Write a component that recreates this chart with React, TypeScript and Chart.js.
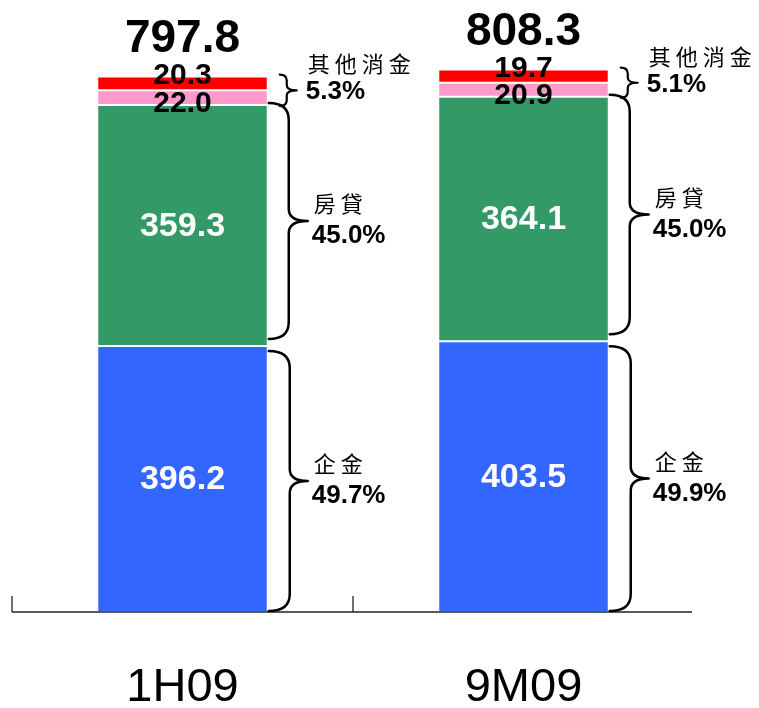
import React, { useEffect, useRef } from 'react';
import { Chart, registerables } from 'chart.js';

Chart.register(...registerables);

// ---- data ----
const categories = ['1H09', '9M09'];
const corporate = [396.2, 403.5];
const mortgage = [359.3, 364.1];
const otherConsumerA = [22.0, 20.9];
const otherConsumerB = [20.3, 19.7];
const totals = [797.8, 808.3];
const corporatePct = [49.7, 49.9];
const mortgagePct = [45.0, 45.0];
const otherPct = [5.3, 5.1];
const groupNames = ['企金', '房貸', '其他消金'];
const seriesNames = ['企金', '房貸', '其他消金(一)', '其他消金(二)'];

const NUM_FONT = '"Liberation Sans", Arial, Helvetica, sans-serif';
const CJK_FONT = '"Noto Sans CJK TC", "Noto Sans CJK SC", sans-serif';

function drawBrace(
  ctx: CanvasRenderingContext2D,
  x0: number, xm: number, xt: number,
  y0: number, y1: number,
  rArm: number, rTip: number, lw: number
) {
  const mid = (y0 + y1) / 2;
  ctx.beginPath();
  ctx.moveTo(x0, y0);
  ctx.quadraticCurveTo(xm, y0, xm, y0 + rArm);
  ctx.lineTo(xm, mid - rTip);
  ctx.quadraticCurveTo(xm, mid, xt, mid);
  ctx.quadraticCurveTo(xm, mid, xm, mid + rTip);
  ctx.lineTo(xm, y1 - rArm);
  ctx.quadraticCurveTo(xm, y1, x0, y1);
  ctx.lineWidth = lw;
  ctx.strokeStyle = '#000';
  ctx.lineJoin = 'round';
  ctx.lineCap = 'round';
  ctx.stroke();
  return mid;
}

function drawSpaced(ctx: CanvasRenderingContext2D, text: string, x: number, y: number, advance: number) {
  Array.from(text).forEach((c, i) => ctx.fillText(c, x + i * advance, y));
}

const annotatePlugin = {
  id: 'annotate',
  afterDatasetsDraw(chart: any) {
    const ctx: CanvasRenderingContext2D = chart.ctx;
    const area = chart.chartArea;
    const xs = chart.scales.x;
    ctx.save();

    // axis line and category boundary ticks
    ctx.strokeStyle = '#222';
    ctx.lineWidth = 1.6;
    ctx.beginPath();
    ctx.moveTo(area.left, area.bottom);
    ctx.lineTo(area.right - 2, area.bottom);
    ctx.stroke();
    const p0 = xs.getPixelForValue(0);
    const p1 = xs.getPixelForValue(1);
    const boundaries = [area.left, (p0 + p1) / 2];
    ctx.lineWidth = 1.3;
    boundaries.forEach((bx) => {
      ctx.beginPath();
      ctx.moveTo(bx, area.bottom - 16);
      ctx.lineTo(bx, area.bottom);
      ctx.stroke();
    });

    categories.forEach((_, i) => {
      const el = (d: number) => chart.getDatasetMeta(d).data[i] as any;
      const blue = el(0), green = el(1), pink = el(2), red = el(3);
      const right = blue.x + blue.width / 2;

      ctx.textAlign = 'center';
      ctx.textBaseline = 'middle';
      ctx.fillStyle = '#fff';
      ctx.font = `bold 34px ${NUM_FONT}`;
      ctx.fillText(corporate[i].toFixed(1), blue.x, (blue.y + blue.base) / 2 + 1);
      ctx.fillText(mortgage[i].toFixed(1), green.x, (green.y + green.base) / 2 + 1);

      ctx.fillStyle = '#000';
      ctx.font = `bold 30px ${NUM_FONT}`;
      ctx.fillText(otherConsumerA[i].toFixed(1), pink.x, pink.base - 1);
      ctx.fillText(otherConsumerB[i].toFixed(1), red.x, red.y - 1);

      ctx.font = `bold 46px ${NUM_FONT}`;
      ctx.fillText(totals[i].toFixed(1), red.x, red.y - 37);

      // braces
      drawBrace(ctx, right + 12, right + 19, right + 29, red.y - 2, pink.base + 1, 6, 5, 2.2);
      const gMid = drawBrace(ctx, right + 1, right + 21, right + 40, green.y - 2, green.base - 7, 17, 12, 2.5);
      const bMid = drawBrace(ctx, right + 1, right + 22, right + 40, blue.y + 5, blue.base - 1, 17, 12, 2.5);

      ctx.textAlign = 'left';
      // other consumer labels
      ctx.font = `22px ${CJK_FONT}`;
      drawSpaced(ctx, groupNames[2], right + 40, red.y - 13, 27);
      ctx.font = `bold 26px ${NUM_FONT}`;
      ctx.fillText(otherPct[i].toFixed(1) + '%', right + 38, red.y + 15);

      // mortgage labels
      ctx.font = `22px ${CJK_FONT}`;
      drawSpaced(ctx, groupNames[1], right + 46, gMid - 17, 27);
      ctx.font = `bold 26px ${NUM_FONT}`;
      ctx.fillText(mortgagePct[i].toFixed(1) + '%', right + 44, gMid + 15);

      // corporate labels
      ctx.font = `22px ${CJK_FONT}`;
      drawSpaced(ctx, groupNames[0], right + 46, bMid - 17, 27);
      ctx.font = `bold 26px ${NUM_FONT}`;
      ctx.fillText(corporatePct[i].toFixed(1) + '%', right + 44, bMid + 15);
    });

    ctx.restore();
  },
};

export default function App() {
  const ref = useRef<HTMLCanvasElement | null>(null);

  useEffect(() => {
    document.documentElement.style.overflow = 'hidden';
    if (!ref.current) return;
    const colors = ['#3366FF', '#339966', '#FF99CC', '#FF0000'];
    const values = [corporate, mortgage, otherConsumerA, otherConsumerB];
    const chart = new Chart(ref.current, {
      type: 'bar',
      data: {
        labels: categories,
        datasets: values.map((v, k) => ({
          label: seriesNames[k],
          data: v,
          backgroundColor: colors[k],
          borderColor: '#ffffff',
          borderWidth: 1,
          borderSkipped: false,
          categoryPercentage: 1,
          barPercentage: 0.5,
        })),
      },
      options: {
        responsive: false,
        animation: false,
        events: [],
        layout: { padding: { left: 4, right: 57, top: 0, bottom: 0 } },
        plugins: { legend: { display: false }, tooltip: { enabled: false } },
        scales: {
          x: {
            stacked: true,
            grid: { display: false, drawTicks: false },
            border: { display: false },
            ticks: {
              color: '#000',
              padding: 64,
              font: { family: NUM_FONT, size: 47, lineHeight: 0.5 },
            },
            afterFit: (scale: any) => {
              scale.height = 96;
            },
          },
          y: {
            stacked: true,
            display: false,
            min: 0,
            max: 900,
          },
        },
      },
      plugins: [annotatePlugin],
    });
    return () => chart.destroy();
  }, []);

  return (
    <div style={{ width: 743, height: 700 }}>
      <canvas ref={ref} width={743} height={700} style={{ display: 'block' }} />
    </div>
  );
}
